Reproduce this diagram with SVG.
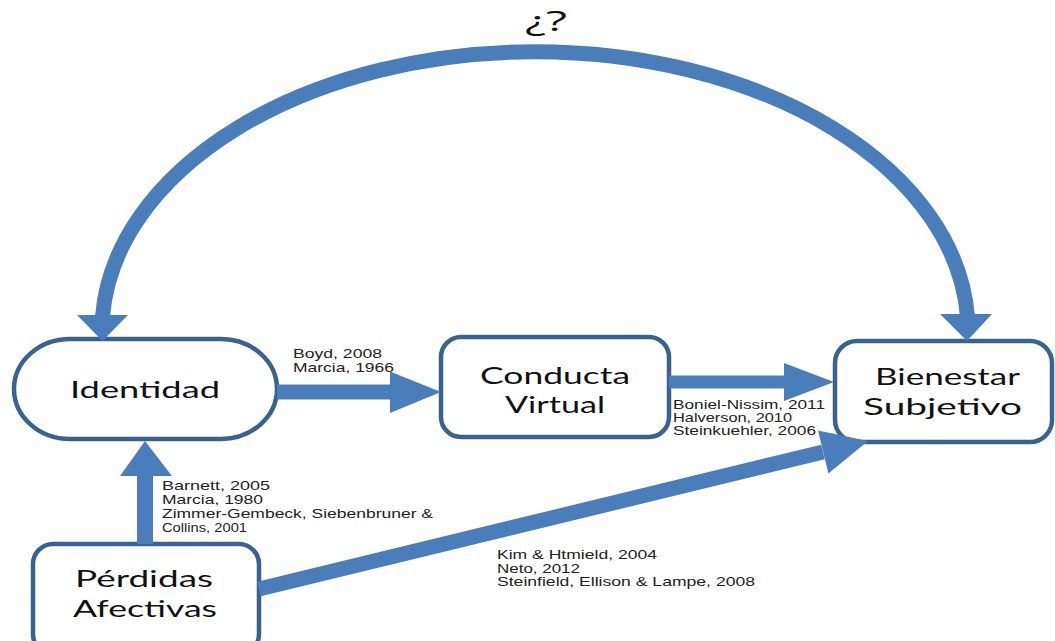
<svg xmlns="http://www.w3.org/2000/svg" width="1055" height="641" viewBox="0 0 1055 641">
  <style>
    .box { fill: #ffffff; stroke: #3b6190; stroke-width: 4.5; }
    .lbl { font-family: Lato, "Open Sans", "DejaVu Sans", sans-serif; font-size: 23px; fill: #111111; }
    .cite { font-family: "Liberation Sans", Arial, sans-serif; font-size: 13px; fill: #222222; }
    .shaft { fill: none; stroke: #4a7ebb; stroke-linecap: butt; }
    .head { fill: #4a7ebb; }
  </style>

  <rect width="1055" height="641" fill="#ffffff"/>

  <!-- nodes -->
  <g id="identidad">
    <rect class="box" x="14" y="339" width="263" height="100" rx="56" ry="50"/>
    <text class="lbl" x="70" y="398" textLength="150" lengthAdjust="spacingAndGlyphs">Identidad</text>
  </g>

  <g id="conducta-virtual">
    <rect class="box" x="441" y="337" width="228" height="100" rx="20" ry="20"/>
    <text class="lbl" x="480" y="384" textLength="150" lengthAdjust="spacingAndGlyphs">Conducta</text>
    <text class="lbl" x="505" y="413" textLength="100" lengthAdjust="spacingAndGlyphs">Virtual</text>
  </g>

  <g id="bienestar-subjetivo">
    <rect class="box" x="835" y="341" width="217" height="101" rx="22" ry="22"/>
    <text class="lbl" x="875" y="385" textLength="145" lengthAdjust="spacingAndGlyphs">Bienestar</text>
    <text class="lbl" x="863" y="415" textLength="159" lengthAdjust="spacingAndGlyphs">Subjetivo</text>
  </g>

  <g id="perdidas-afectivas">
    <rect class="box" x="33" y="544" width="226" height="110" rx="20" ry="20"/>
    <text class="lbl" x="75" y="587" textLength="138" lengthAdjust="spacingAndGlyphs">Pérdidas</text>
    <text class="lbl" x="73" y="617" textLength="144" lengthAdjust="spacingAndGlyphs">Afectivas</text>
  </g>

  <!-- connectors -->
  <g id="connectors">
    <!-- arc between Identidad and Bienestar Subjetivo, heads at both ends -->
    <path class="shaft" stroke-width="15" d="M 102.6 316 A 433 279 0 0 1 967.4 316"/>
    <polygon class="head" points="77,315 128,315 102.5,341"/>
    <polygon class="head" points="940,314 992,314 967,341"/>

    <!-- Identidad -> Conducta Virtual -->
    <line class="shaft" stroke-width="15" x1="277" y1="392" x2="392" y2="392"/>
    <polygon class="head" points="390,371.5 441,392 390,413"/>

    <!-- Conducta Virtual -> Bienestar Subjetivo -->
    <line class="shaft" stroke-width="13" x1="669" y1="382" x2="786" y2="382"/>
    <polygon class="head" points="784,363 834,382 784,401"/>

    <!-- Pérdidas Afectivas -> Identidad -->
    <line class="shaft" stroke-width="16" x1="145" y1="544" x2="145" y2="474"/>
    <polygon class="head" points="120,476 145,441 172,476"/>

    <!-- Pérdidas Afectivas -> Bienestar Subjetivo -->
    <line class="shaft" stroke-width="15" x1="259" y1="589" x2="823" y2="452"/>
    <polygon class="head" points="828.4,473.4 868,441 818,430.6"/>
  </g>

  <!-- edge annotations -->
  <text id="q" x="525" y="31" font-family="Open Sans, Noto Sans, DejaVu Sans, sans-serif" font-size="27" fill="#111111" textLength="42" lengthAdjust="spacingAndGlyphs">¿?</text>

  <g id="refs-identidad-conducta">
    <text class="cite" x="293" y="358" textLength="89" lengthAdjust="spacingAndGlyphs">Boyd, 2008</text>
    <text class="cite" x="293" y="372" textLength="101" lengthAdjust="spacingAndGlyphs">Marcia, 1966</text>
  </g>

  <g id="refs-conducta-bienestar">
    <text class="cite" x="673" y="409" textLength="152" lengthAdjust="spacingAndGlyphs">Boniel-Nissim, 2011</text>
    <text class="cite" x="673" y="422" textLength="119" lengthAdjust="spacingAndGlyphs">Halverson, 2010</text>
    <text class="cite" x="673" y="435" textLength="143" lengthAdjust="spacingAndGlyphs">Steinkuehler, 2006</text>
  </g>

  <g id="refs-perdidas-identidad">
    <text class="cite" x="162" y="490" textLength="108" lengthAdjust="spacingAndGlyphs">Barnett, 2005</text>
    <text class="cite" x="162" y="504" textLength="101" lengthAdjust="spacingAndGlyphs">Marcia, 1980</text>
    <text class="cite" x="162" y="518" textLength="271" lengthAdjust="spacingAndGlyphs">Zimmer-Gembeck, Siebenbruner &amp;</text>
    <text class="cite" x="162" y="532" textLength="85" lengthAdjust="spacingAndGlyphs">Collins, 2001</text>
  </g>

  <g id="refs-perdidas-bienestar">
    <text class="cite" x="497" y="559" textLength="160" lengthAdjust="spacingAndGlyphs">Kim &amp; Htmield, 2004</text>
    <text class="cite" x="497" y="573" textLength="83" lengthAdjust="spacingAndGlyphs">Neto, 2012</text>
    <text class="cite" x="497" y="586" textLength="258" lengthAdjust="spacingAndGlyphs">Steinfield, Ellison &amp; Lampe, 2008</text>
  </g>
</svg>
